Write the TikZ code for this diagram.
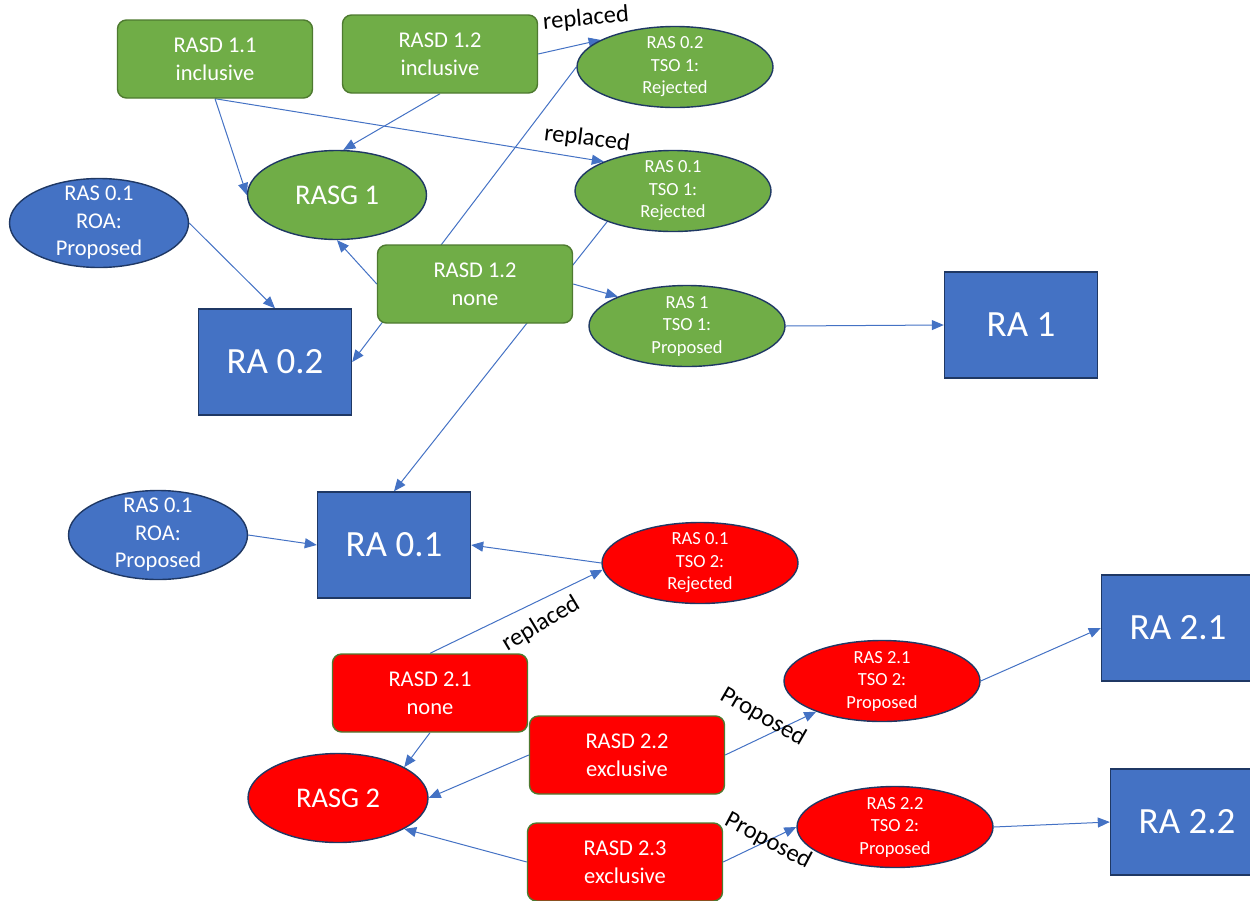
\documentclass[tikz,border=0pt]{standalone}
\usepackage{fontspec}
\setmainfont{Carlito}
\usetikzlibrary{arrows.meta,shapes.geometric}
\definecolor{ogreen}{HTML}{70AD47}
\definecolor{ogreenb}{HTML}{4E7A30}
\definecolor{oblue}{HTML}{4472C4}
\definecolor{onavy}{HTML}{1F3864}
\definecolor{ored}{HTML}{FF0000}
\definecolor{oline}{HTML}{4472C4}
\pgfdeclarelayer{bg}
\pgfsetlayers{bg,main}
\begin{document}
\begin{tikzpicture}[x=1pt,y=-1pt,
  rbox/.style={draw=ogreenb, line width=1.4pt, rounded corners=9pt, minimum width=195pt, minimum height=78pt, inner sep=0pt, text=white, align=center, font=\fontsize{22.5}{28}\selectfont},
  gbox/.style={rbox, fill=ogreen},
  redbox/.style={rbox, fill=ored},
  ell/.style={ellipse, draw=onavy, line width=1.4pt, inner sep=0pt, minimum width=196pt, minimum height=81pt, text=white},
  gell/.style={ell, fill=ogreen},
  rell/.style={ell, fill=ored},
  bigell/.style={ell, minimum width=179pt, minimum height=89pt},
  etxt/.style={text=white, align=center, inner sep=0pt, font=\fontsize{18.5}{22.5}\selectfont},
  btxt/.style={text=white, align=center, inner sep=0pt, font=\fontsize{22.5}{27.5}\selectfont},
  gtxt/.style={font=\fontsize{28.5}{34}\selectfont},
  rabox/.style={draw=onavy, line width=1.4pt, fill=oblue, minimum width=153pt, minimum height=106pt, inner sep=0pt, text=white, font=\fontsize{37}{44}\selectfont},
  arr/.style={draw=oline, line width=1pt, -{Triangle[length=12pt,width=10pt]}},
  lbl/.style={text=black, inner sep=0pt, font=\fontsize{24.5}{29}\selectfont}
]
\useasboundingbox (0,0) rectangle (1250,900);
\clip (0,0) rectangle (1250,900);

% green top group
\node[gbox] (rasd11) at (215,59) {RASD 1.1\\inclusive};
\node[gbox] (rasd12) at (440,54) {RASD 1.2\\inclusive};
\node[gell] (ras02) at (675,67) {};
\node[etxt] (ras02t) at (ras02) {RAS 0.2\\TSO 1:\\Rejected};
\node[gell, bigell, fill=ogreen, gtxt] (rasg1) at (337,195) {RASG 1};
\node[gell] (ras01t1) at (673,191) {};
\node[etxt] (ras01t1t) at (ras01t1) {RAS 0.1\\TSO 1:\\Rejected};
\node[bigell, fill=oblue] (rasoa1) at (99,223) {};
\node[btxt] (rasoa1t) at (rasoa1) {RAS 0.1\\ROA:\\Proposed};
\node[gbox] (rasd12n) at (475,284) {RASD 1.2\\none};
\node[gell] (ras1) at (687,326) {};
\node[etxt] (ras1t) at (ras1) {RAS 1\\TSO 1:\\Proposed};
\node[rabox] (ra1) at (1021,325) {RA 1};
\node[rabox] (ra02) at (275,362) {RA 0.2};

% middle
\node[bigell, fill=oblue] (rasoa2) at (158,535) {};
\node[btxt] (rasoa2t) at (rasoa2) {RAS 0.1\\ROA:\\Proposed};
\node[rabox] (ra01) at (394,545) {RA 0.1};
\node[rell] (ras01t2) at (700,563) {};
\node[etxt] (ras01t2t) at (ras01t2) {RAS 0.1\\TSO 2:\\Rejected};

% red bottom group
\node[rabox] (ra21) at (1178,628) {RA 2.1};
\node[redbox] (rasd21) at (430,693) {RASD 2.1\\none};
\node[rell] (ras21) at (882,681) {};
\node[etxt] (ras21t) at (ras21) {RAS 2.1\\TSO 2:\\Proposed};
\node[redbox] (rasd22) at (627,755) {RASD 2.2\\exclusive};
\node[rell, bigell, fill=ored, gtxt, minimum width=180pt] (rasg2) at (338,798) {RASG 2};
\node[redbox] (rasd23) at (625,862) {RASD 2.3\\exclusive};
\node[rell] (ras22) at (895,827) {};
\node[etxt] (ras22t) at (ras22) {RAS 2.2\\TSO 2:\\Proposed};
\node[rabox] (ra22) at (1187,822) {RA 2.2};

\begin{pgfonlayer}{bg}
\draw[arr] (rasd11.south) -- (rasg1.west);
\draw[arr] (rasd11.south) -- (ras01t1.157);
\draw[arr] (rasd12.south) -- (rasg1.82);
\draw[arr] (rasd12.east) -- (ras02.160);
\draw[arr] (ras02.west) -- (ra02.east);
\draw[arr] (ras01t1.205) -- (ra01.north);
\draw[arr] (rasd12n.west) -- (rasg1.south);
\draw[arr] (rasd12n.east) -- (ras1.157);
\draw[arr] (rasoa1.east) -- (ra02.north);
\draw[arr] (ras1.east) -- (ra1.west);
\draw[arr] (rasoa2.east) -- (ra01.west);
\draw[arr] (ras01t2.west) -- (ra01.east);
\draw[arr] (rasd21.north) -- (ras01t2.184);
\draw[arr] (rasd21.south) -- (rasg2.25);
\draw[arr] (rasd22.west) -- (rasg2.east);
\draw[arr] (rasd23.west) -- (rasg2.335);
\draw[arr] (rasd22.east) -- (ras21.205);
\draw[arr] (rasd23.east) -- (ras22.west);
\draw[arr] (ras21.east) -- (ra21.west);
\draw[arr] (ras22.east) -- (ra22.west);
\end{pgfonlayer}

% labels
\node[lbl, rotate=5] (l1) at (586,19) {replaced};
\node[lbl, rotate=-7] (l2) at (587,139) {replaced};
\node[lbl, rotate=31] (l3) at (541,624) {replaced};
\node[lbl, rotate=-30] (l4) at (763,717) {Proposed};
\node[lbl, rotate=-28] (l5) at (768,841) {Proposed};
\end{tikzpicture}
\end{document}
